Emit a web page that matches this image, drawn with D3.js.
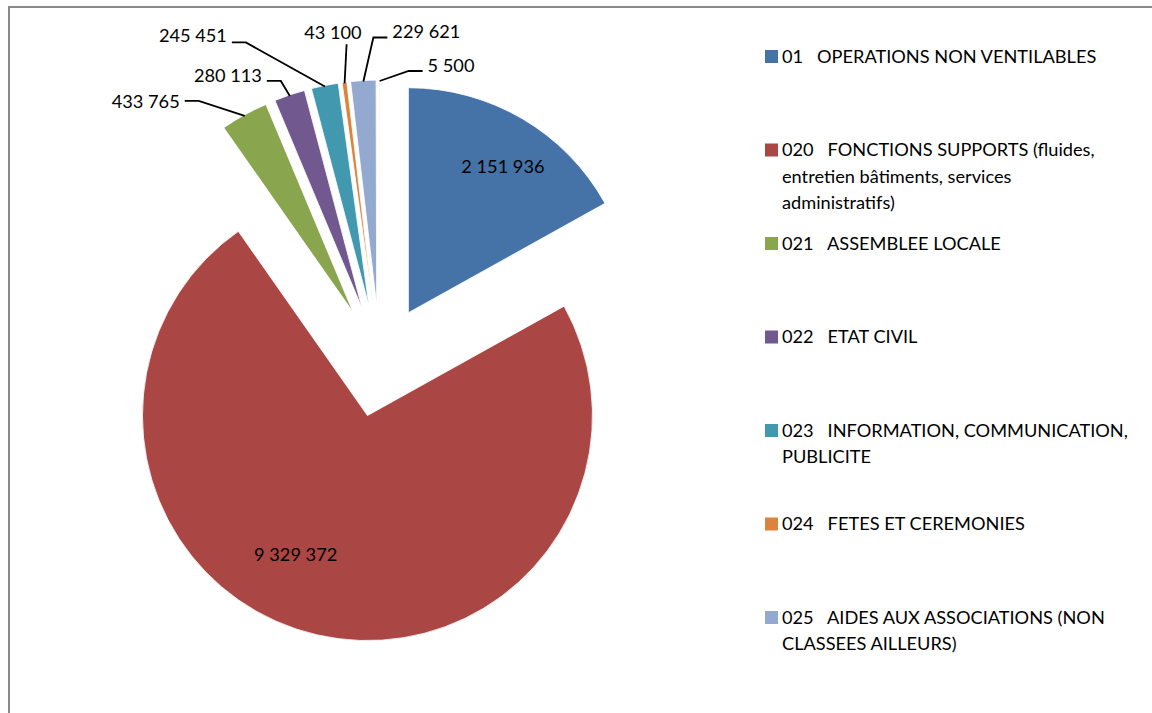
<!DOCTYPE html>
<html>
<head>
<meta charset="utf-8">
<script src="https://cdn.jsdelivr.net/npm/d3@7"></script>
<style>
  body { margin: 0; background: #fff; }
  text { font-family: Lato, "Liberation Sans", sans-serif; font-size: 18.2px; fill: #000; white-space: pre; }
</style>
</head>
<body>
<svg id="chart" width="1152" height="713"></svg>
<script>
// codes + libellés (legend lines as wrapped in the original)
const codes = ["01", "020", "021", "022", "023", "024", "025", "026"];
const legendLines = [
  ["01   OPERATIONS NON VENTILABLES"],
  ["020   FONCTIONS SUPPORTS (fluides,", "entretien bâtiments, services", "administratifs)"],
  ["021   ASSEMBLEE LOCALE"],
  ["022   ETAT CIVIL"],
  ["023   INFORMATION, COMMUNICATION,", "PUBLICITE"],
  ["024   FETES ET CEREMONIES"],
  ["025   AIDES AUX ASSOCIATIONS (NON", "CLASSEES AILLEURS)"],
  ["026   CIMETIERES ET POMPES FUNEBRES"]
];
const values = [2151936, 9329372, 433765, 280113, 245451, 43100, 229621, 5500];
const colors = ["#4572A7", "#AA4643", "#89A54E", "#71588F", "#4198AF", "#DB843D", "#93A9CF", "#D19392"];

let svg = d3.select("#chart");
let fmt = v => d3.format(",")(v).replace(/,/g, " ");

// cadre gris (haut + gauche)
svg.append("path")
  .attr("d", "M9,713 V7 H1152")
  .attr("fill", "none")
  .attr("stroke", "#8a8a8a")
  .attr("stroke-width", 2);

let cx = 380, cy = 361, r = 225, explode = 56;

let pie = d3.pie().sort(null).startAngle(0).endAngle(2 * Math.PI);
let arcs = pie(values);
let arc = d3.arc().innerRadius(0).outerRadius(r);

function shift(d) {
  let a = (d.startAngle + d.endAngle) / 2;
  return [cx + explode * Math.sin(a), cy - explode * Math.cos(a)];
}

let g = svg.append("g");
g.selectAll("path.slice")
  .data(arcs)
  .enter()
  .append("path")
  .attr("class", "slice")
  .attr("transform", d => `translate(${shift(d)})`)
  .attr("d", arc)
  .attr("fill", (d, i) => colors[i])
  .attr("stroke", "#fff")
  .attr("stroke-width", 0.8);

// étiquettes intérieures (2 grosses parts)
let innerNudge = {0: [9, 0], 1: [-34, -25]};
let labelArc = d3.arc().innerRadius(r * 0.75).outerRadius(r * 0.75);
g.selectAll("text.inner")
  .data(arcs.filter((d, i) => i < 2))
  .enter()
  .append("text")
  .attr("class", "inner")
  .attr("text-anchor", "middle")
  .attr("x", (d, i) => shift(d)[0] + labelArc.centroid(d)[0] + innerNudge[i][0])
  .attr("y", (d, i) => shift(d)[1] + labelArc.centroid(d)[1] + innerNudge[i][1] + 6)
  .text(d => fmt(d.value));

// étiquettes extérieures avec lignes de rappel
// [dx, dy] du coude depuis le bord de la part, side: -1 gauche, 1 droite, 0 dessus
let leader = {
  2: {dx: -46, dy: -15, side: -1, ty: 7},
  3: {dx: -9, dy: -15, side: -1, ty: 1},
  4: {dx: -79, dy: -44, side: -1, ty: 0},
  5: {dx: 2, dy: -39, side: 0, ty: 0},
  6: {dx: 10, dy: -44, side: 1, ty: 1},
  7: {dx: 29, dy: -10, side: 1, ty: 1}
};
let edgeArc = d3.arc().innerRadius(r - 1).outerRadius(r - 1);

arcs.forEach((d, i) => {
  let L = leader[i];
  if (!L) return;
  let s = shift(d);
  let c = edgeArc.centroid(d);
  let ax = s[0] + c[0], ay = s[1] + c[1];
  let ex = ax + L.dx, ey = ay + L.dy;
  let pts = [[ax, ay], [ex, ey]];
  let tx, anchor;
  if (L.side !== 0) {
    pts.push([ex + 14 * L.side, ey]);
    tx = ex + 19 * L.side;
    anchor = L.side < 0 ? "end" : "start";
  } else {
    tx = ex + 15;
    anchor = "end";
  }
  g.append("path")
    .attr("d", d3.line()(pts))
    .attr("fill", "none")
    .attr("stroke", "#000")
    .attr("stroke-width", 1.8);
  g.append("text")
    .attr("x", tx)
    .attr("y", L.side === 0 ? ey - 5 : ey + L.ty)
    .attr("text-anchor", anchor)
    .text(fmt(d.value));
});

// légende (les 7 premières entrées visibles)
let legend = svg.append("g").attr("transform", "translate(765,56)");
let step = 93.5, lineH = 26.5;
let items = legend.selectAll("g.item")
  .data(legendLines.slice(0, 7))
  .enter()
  .append("g")
  .attr("class", "item")
  .attr("transform", (d, i) => `translate(0,${i * step})`);
items.append("rect")
  .attr("x", 0).attr("y", -6)
  .attr("width", 13).attr("height", 13)
  .attr("fill", (d, i) => colors[i]);
items.each(function(lines) {
  let t = d3.select(this);
  lines.forEach((ln, k) => {
    t.append("text")
      .attr("x", 17)
      .attr("y", k * lineH + 6.5)
      .text(ln);
  });
});
</script>
</body>
</html>
